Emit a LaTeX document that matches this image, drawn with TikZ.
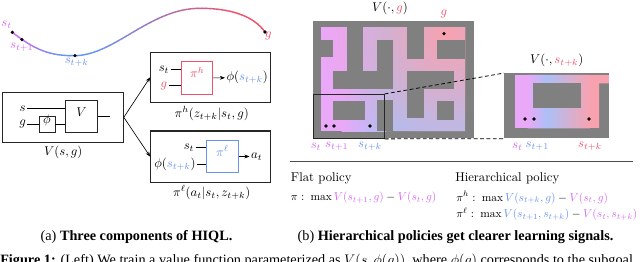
\documentclass[tikz,border=0pt]{standalone}
\usepackage{amsmath,amssymb}
\usepackage{graphicx}
\usepackage{fontspec}
\newfontfamily\capfont{Liberation Serif}
\usepackage{tikz}
\usetikzlibrary{arrows.meta,positioning,fit,calc,fadings}
\definecolor{hviolet}{RGB}{214,104,240}
\definecolor{hblue}{RGB}{104,148,240}
\definecolor{hred}{RGB}{240,80,105}
\definecolor{mazegray}{RGB}{128,128,128}
\definecolor{mazeviolet}{RGB}{234,168,248}
\definecolor{mazeblue}{RGB}{172,192,246}
\definecolor{mazered}{RGB}{248,162,176}
\tikzfading[name=goalglow, inner color=transparent!0, outer color=transparent!100]
\newcommand\trajpath{(12.3,32.3) .. controls (35,50) and (50,56) .. (75,55.7) .. controls (115,55) and (150,8.3) .. (200,8.3) .. controls (235,8.3) and (255,18) .. (265,32)}
\newcommand\capsize{\capfont\fontsize{11.2}{13}\selectfont}
\newcommand\objeq[1]{\scalebox{0.9}{$#1$}}

\begin{document}
\begin{tikzpicture}[
  x=0.786pt, y=-0.786pt,
  outerbox/.style={draw=black!85, line width=0.8pt, inner sep=0pt},
  netbox/.style={draw=black!85, line width=0.6pt, inner sep=0pt},
  lbl/.style={inner sep=1pt},
  dot/.style={circle, fill=black, inner sep=0pt, minimum size=2.8pt},
  arr/.style={-{Stealth[length=4pt]}, line width=0.5pt},
  wire/.style={line width=0.6pt},
  wall/.style={fill=mazegray},
  objtext/.style={anchor=west, inner sep=0pt}
]
\useasboundingbox (0,0) rectangle (640,262);

% trajectory with colour running from s_t to g
\foreach \i in {0,...,64} {
  \pgfmathsetmacro\xl{10+4*\i}
  \pgfmathsetmacro\fb{100*min(max((\xl-12)/46,0),1)}
  \pgfmathsetmacro\fr{100*min(max((\xl-95)/140,0),1)}
  \colorlet{trajcol}{hblue!\fb!hviolet}
  \colorlet{trajcol}{hred!\fr!trajcol}
  \begin{scope}
    \clip (\xl-0.3,0) rectangle (\xl+4.3,70);
    \draw[trajcol, line width=1.1pt] \trajpath;
  \end{scope}
}
\node[dot] (pst) at (12.3,32.3) {};
\node[dot] (pst1) at (21.9,39.6) {};
\node[dot] (pstk) at (75,55.7) {};
\node[dot] (pg) at (265,32) {};
\node[lbl, hviolet] (lst) at (6.7,25) {$s_t$};
\node[lbl, hviolet] (lst1) at (21.7,47) {$s_{t+1}$};
\node[lbl, hblue] (lstk) at (76.7,62.7) {$s_{t+k}$};
\node[lbl, hred] (lg) at (268.5,36) {$g$};

% value network
\node[outerbox, fit={(2.7,92.3) (123.3,142.3)}] (vbox) {};
\node[netbox, fit={(65.7,100.7) (97.3,132.3)}] (vnet) {$V$};
\node[netbox, fit={(39,116.7) (55,132.3)}] (phinet) {$\phi$};
\node[lbl] (sin) at (22.7,108.3) {$s$};
\node[lbl] (gin) at (22.7,124) {$g$};
\coordinate (vout) at (110,116.5);
\draw[wire] (sin.east) -- (sin.east -| vnet.west);
\draw[wire] (gin.east) -- (gin.east -| phinet.west);
\draw[wire] (phinet.east) -- (phinet.east -| vnet.west);
\draw[wire] (vnet.east) -- (vout);
\node (vcap) at (63.3,152.3) {$V(s,g)$};

% high-level policy
\node[outerbox, fit={(150.7,52.3) (270.7,102.3)}] (pihbox) {};
\node[netbox, draw=hred, text=hred, fit={(181.7,61.7) (212.7,94)}] (pihnet) {$\pi^h$};
\node[lbl] (sth) at (164,69.5) {$s_t$};
\node[lbl, hred] (gh) at (164,85.7) {$g$};
\draw[wire] (sth.east) -- (sth.east -| pihnet.west);
\draw[wire] (gh.east) -- (gh.east -| pihnet.west);
\node[lbl, anchor=west] (zh) at (225,77.8) {$\phi(\textcolor{hblue}{s_{t+k}})$};
\draw[arr] (pihnet.east) -- (zh.west);
\node (pihcap) at (211.7,113.3) {$\pi^h(z_{t+k}|s_t,g)$};

% low-level policy
\node[outerbox, fit={(150.7,131) (270.7,182.3)}] (pilbox) {};
\node[netbox, draw=hblue, text=hblue, fit={(206.7,140.7) (238.3,172.3)}] (pilnet) {$\pi^\ell$};
\node[lbl] (stl) at (189,147.7) {$s_t$};
\node[lbl] (zl) at (175,164.3) {$\phi(\textcolor{hblue}{s_{t+k}})$};
\draw[wire] (stl.east) -- (stl.east -| pilnet.west);
\draw[wire] (zl.east) -- (zl.east -| pilnet.west);
\node[lbl, anchor=west] (atl) at (249.5,156.5) {$a_t$};
\draw[arr] (pilnet.east) -- (atl.west);
\node (pilcap) at (211.7,192.3) {$\pi^\ell(a_t|s_t,z_{t+k})$};

\draw[arr] (vbox.east) -- (pihbox.west);
\draw[arr] (vbox.east) -- (pilbox.west);

\node (capa) at (136.5,237) {\capsize (a) \textbf{Three components of HIQL.}};

% maze with V(., g)
\fill[mazegray] (313.3,20.7) rectangle (473.7,138.5);
\begin{scope}
  \clip (321,27.3) rectangle (465.3,131.5);
  \fill[mazeviolet] (321,27.3) rectangle (342,131.5);
  \shade[left color=mazeviolet, right color=mazeblue] (341.5,27.3) rectangle (386,131.5);
  \fill[mazeblue] (385.5,27.3) rectangle (465.3,131.5);
  \fill[mazered, path fading=goalglow] (447,34) circle (125);
\end{scope}
\foreach \xa/\ya/\xb/\yb in {321/39.7/333/57.3, 346.7/27.3/363.3/71.3,
    333/71.3/393.3/89.3, 376.7/39.7/393.3/71.3, 333/101.3/365/119.7,
    376.7/100.5/393.3/131.5, 407/27.3/423.7/58.7, 437/39.7/465.3/58.7,
    407/71.3/453.7/89.3, 407/89/423.7/118, 437/101.3/453.7/119.7}
  \fill[wall] (\xa,\ya) rectangle (\xb,\yb);
\node (vglab) at (390,8.7) {$V(\cdot,\textcolor{hred}{g})$};
\node[lbl, hred] (glab) at (444,14) {$g$};
\node[dot] (mg) at (444,33.7) {};
\node[dot] (mst) at (326,126) {};
\node[dot] (mst1) at (334,126) {};
\node[dot] (mstk) at (370,126) {};
\node[lbl, hviolet] (mlst) at (316,146.7) {$s_t$};
\node[lbl, hviolet] (mlst1) at (336.7,146.7) {$s_{t+1}$};
\node[lbl, hblue] (mlstk) at (370,146.7) {$s_{t+k}$};
\node[draw=black!85, line width=0.6pt, inner sep=0pt, fit={(313.3,94.3) (384.3,138.5)}] (win) {};

% zoomed part with V(., s_t+k)
\fill[mazegray] (504.3,73.3) rectangle (609,138.5);
\begin{scope}
  \clip (515,75) -- (609,75) -- (609,83.5) -- (599,83.5) -- (599,128.5) -- (515,128.5) -- cycle;
  \fill[mazeviolet] (515,75) rectangle (528,128.5);
  \shade[left color=mazeviolet, right color=mazeblue] (527.5,75) rectangle (547,128.5);
  \shade[left color=mazeblue, right color=mazered] (546.5,75) rectangle (590,128.5);
  \fill[mazered] (589.5,75) rectangle (609,128.5);
\end{scope}
\fill[wall] (533.3,83.5) rectangle (580.5,108.5);
\node[inner sep=0pt, fit={(504.3,73.3) (609,138.5)}] (zpanel) {};
\node (vzlab) at (556.7,60) {$V(\cdot,\textcolor{hred}{s_{t+k}})$};
\node[dot] (zst) at (525,119) {};
\node[dot] (zst1) at (534,119) {};
\node[dot] (zstk) at (589,119) {};
\node[lbl, hviolet] (zlst) at (517.3,146.7) {$s_t$};
\node[lbl, hblue] (zlst1) at (537.3,146.7) {$s_{t+1}$};
\node[lbl, hred] (zlstk) at (590,146.7) {$s_{t+k}$};
\draw[densely dashed, line width=0.6pt] (win.north east) -- (zpanel.north west);
\draw[densely dashed, line width=0.6pt] (win.south east) -- (zpanel.south west);

% objectives
\draw[black!70, line width=0.8pt] (290,161.7) -- (633,161.7);
\node[anchor=west, inner sep=0pt] (flat) at (290.7,178.3) {Flat policy};
\node[objtext] (flateq) at (290.7,197.7) {\objeq{\pi:\;\max \textcolor{hviolet}{V(s_{t+1},g)}-\textcolor{hviolet}{V(s_t,g)}}};
\node[anchor=west, inner sep=0pt] (hier) at (455,178.3) {Hierarchical policy};
\node[objtext] (hiereqh) at (456,197.7) {\objeq{\pi^h:\;\max \textcolor{hblue}{V(s_{t+k},g)}-\textcolor{hviolet}{V(s_t,g)}}};
\node[objtext] (hiereql) at (456,214) {\objeq{\pi^\ell:\;\max \textcolor{hblue}{V(s_{t+1},s_{t+k})}-\textcolor{hviolet}{V(s_t,s_{t+k})}}};

\node (capb) at (455.5,237) {\capsize (b) \textbf{Hierarchical policies get clearer learning signals.}};
\node[anchor=base west, inner sep=0pt] (figcap) at (0,264.5) {\capsize \textbf{Figure 1:} (Left) We train a value function parameterized as $V(s,\phi(g))$, where $\phi(g)$ corresponds to the subgoal};
\end{tikzpicture}
\end{document}
